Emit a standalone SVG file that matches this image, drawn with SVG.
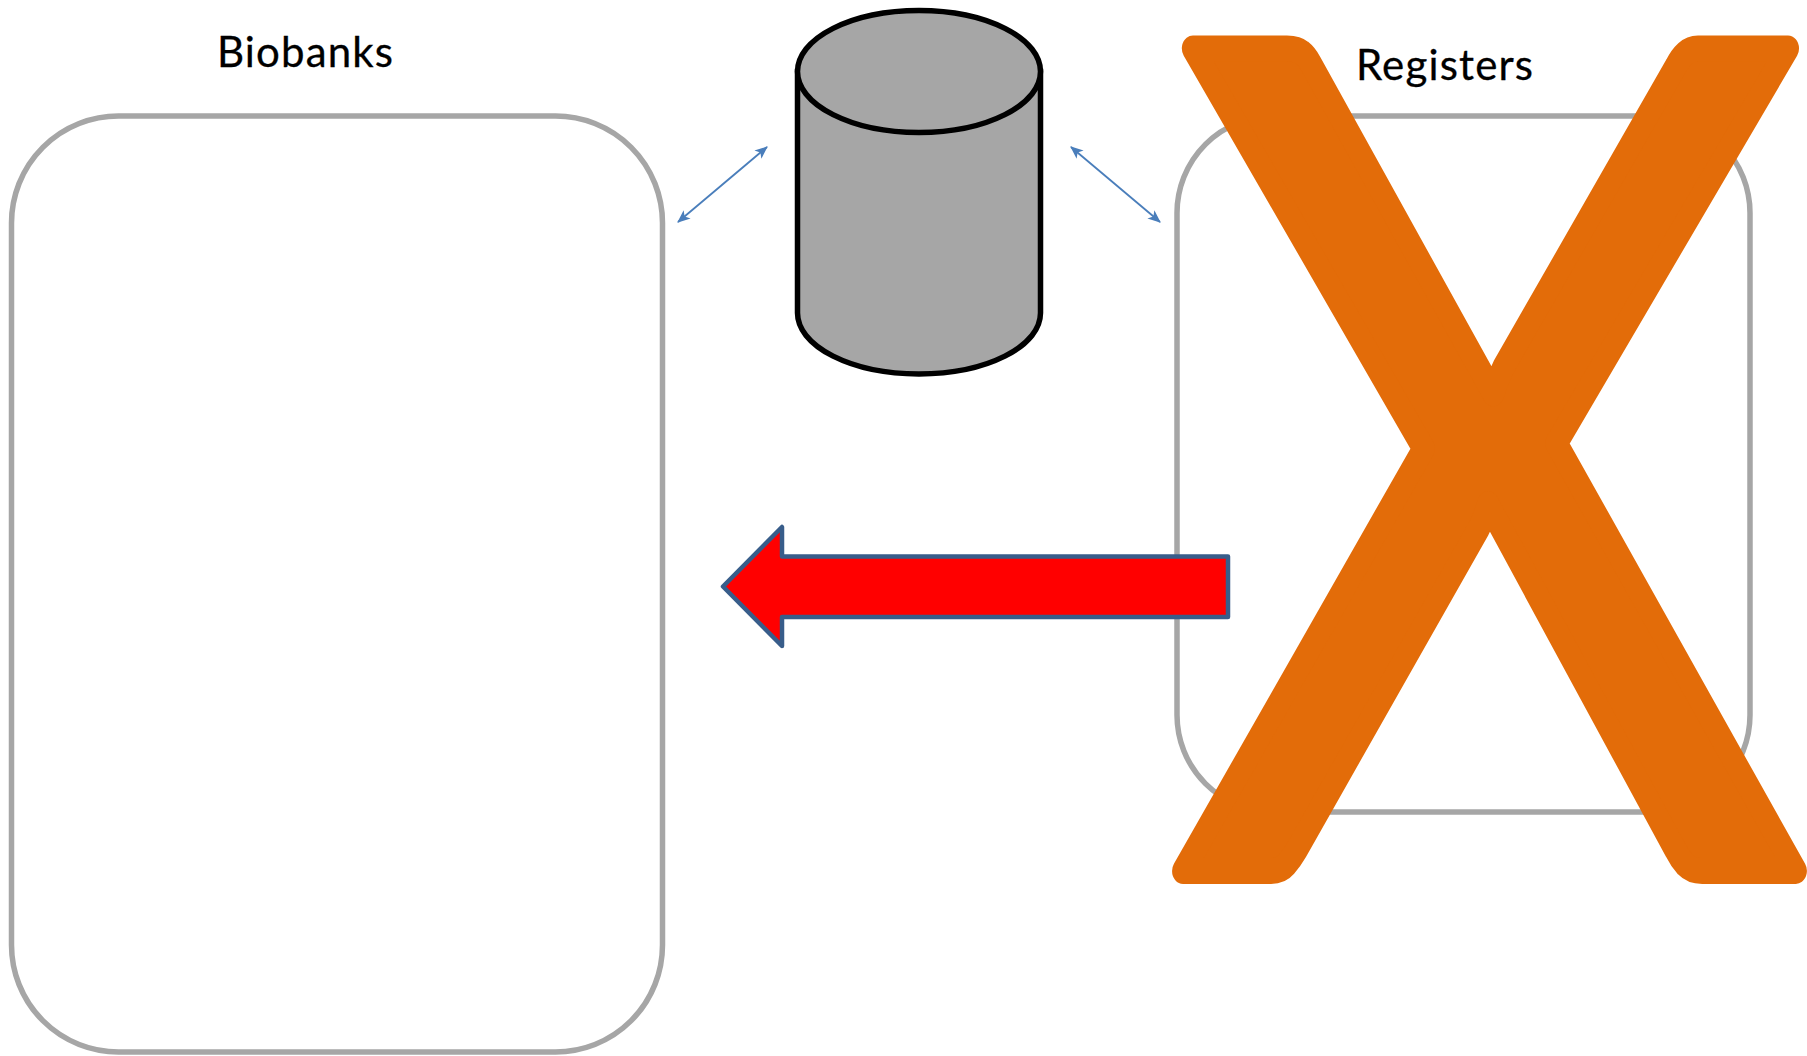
<svg xmlns="http://www.w3.org/2000/svg" width="1807" height="1056" viewBox="0 0 1807 1056">
<style>
.box{fill:#fff;stroke:#a6a6a6;stroke-width:5.500}
.cyl{fill:#a6a6a6;stroke:#000;stroke-width:5.500}
.lbl{font-family:Lato,"Open Sans",sans-serif;font-size:42px;fill:#000;stroke:#000;stroke-width:.3}
.link{fill:none;stroke:#4a7ebb;stroke-width:1.8;marker-start:url(#ah);marker-end:url(#ah)}
</style>
<defs>
<marker id="ah" viewBox="0 0 12 10" refX="11" refY="5" markerUnits="userSpaceOnUse" markerWidth="13" markerHeight="11" orient="auto-start-reverse"><path d="M0 0L12 5L0 10L3 5Z" fill="#4a7ebb"/></marker>
</defs>
<rect width="1807" height="1056" fill="#fff"/>
<g id="biobanks">
<rect class="box" x="11.500" y="116" width="651" height="936" rx="107" ry="107"/>
<text class="lbl" x="217" y="67" textLength="176">Biobanks</text>
</g>
<g id="registers">
<rect class="box" x="1177" y="116" width="573" height="696" rx="97" ry="97"/>
<text class="lbl" x="1356" y="80" textLength="177">Registers</text>
</g>
<g id="database">
<path class="cyl" d="M797.500 71.500V313A121.500 61 0 0 0 1040.500 313V71.500Z"/>
<ellipse class="cyl" cx="919" cy="71.500" rx="121.500" ry="61"/>
</g>
<g id="connectors">
<line class="link" x1="767" y1="147" x2="678" y2="222"/>
<line class="link" x1="1071" y1="147" x2="1160" y2="222"/>
</g>
<g id="transfer-arrow">
<path d="M723 586.500L782 527V556.500H1228V617H782V646Z" fill="#f00" stroke="#385d8a" stroke-width="4.500" stroke-linejoin="round"/>
</g>
<g id="cross">
<text transform="translate(1490 871) scale(.85 1)" text-anchor="middle" font-family="Lato,sans-serif" font-weight="400" font-size="1148" fill="#e36c09" stroke="#e36c09" stroke-width="26" stroke-linejoin="round">X</text>
</g>
</svg>
